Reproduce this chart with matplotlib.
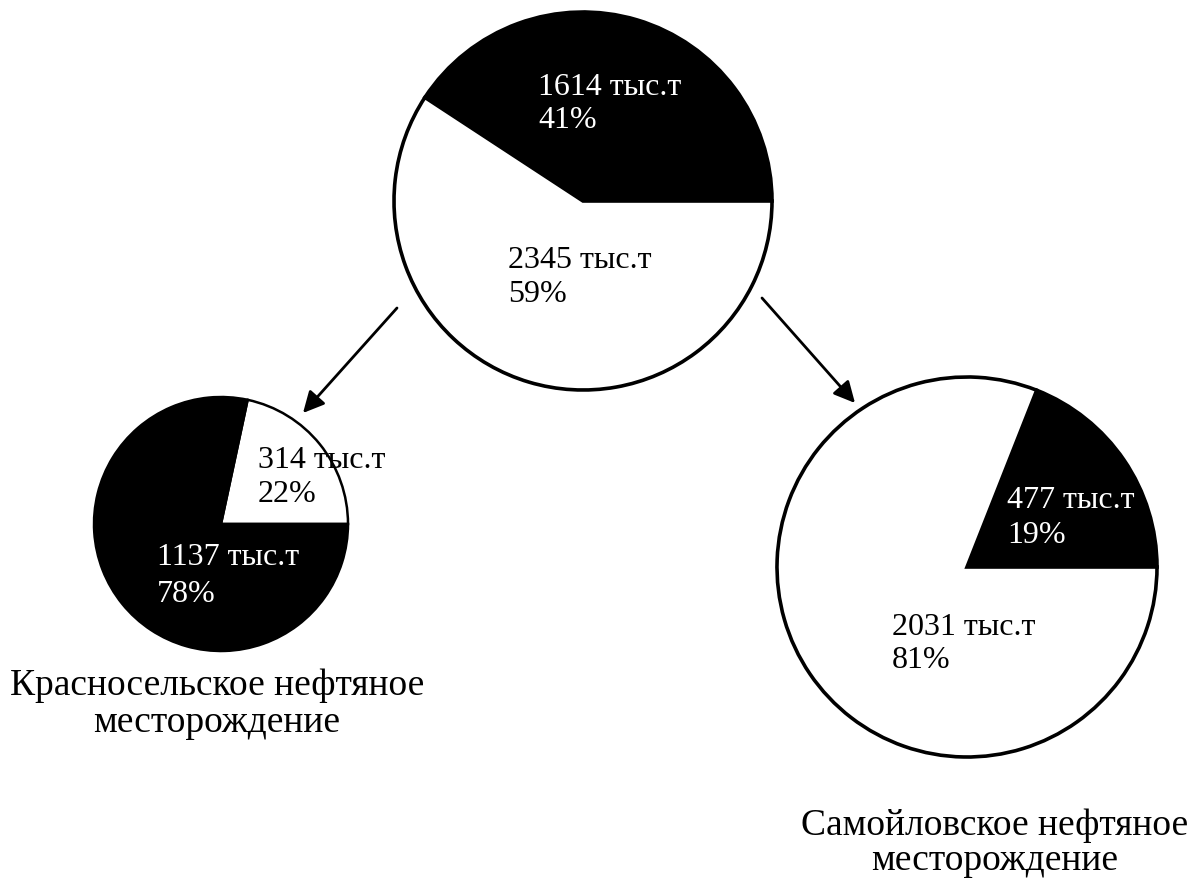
import matplotlib.pyplot as plt

plt.rcParams['font.family'] = ['Liberation Serif', 'DejaVu Serif']

# ── Data (тыс.т and shares) ──
top_vals = [1614, 2345]
top_pct = [41, 59]
left_vals = [314, 1137]
left_pct = [22, 78]
right_vals = [477, 2031]
right_pct = [19, 81]

left_title = ["Красносельское нефтяное", "месторождение"]
right_title = ["Самойловское нефтяное", "месторождение"]

W, H = 1193, 896
fig = plt.figure(figsize=(W / 100, H / 100), dpi=100)
ax = fig.add_axes([0, 0, 1, 1])

def draw_pie(vals, colors, center, radius, lw):
    # y axis is inverted, so clockwise in data = counter-clockwise on screen
    ax.pie(vals, colors=colors, startangle=0, counterclock=False,
           center=center, radius=radius, frame=True,
           wedgeprops=dict(edgecolor="black", linewidth=lw))

draw_pie(top_vals, ["black", "white"], (583, 201), 189, 2.6)
draw_pie(left_vals, ["white", "black"], (221, 524), 127, 1.8)
draw_pie(right_vals, ["black", "white"], (967, 567), 190, 2.6)

ax.set_xlim(0, W)
ax.set_ylim(H, 0)   # pixel-like coordinates, y goes down
ax.set_aspect("equal")
ax.axis("off")

# ── Slice labels: value + percent, two lines ──
def label(val, pct, x, y1, y2, color):
    ax.text(x, y1, f"{val} тыс.т", fontsize=23, color=color, va="baseline", ha="left")
    ax.text(x, y2, f"{pct}%", fontsize=23, color=color, va="baseline", ha="left")

label(top_vals[0], top_pct[0], 538, 95, 128, "white")
label(top_vals[1], top_pct[1], 508, 268, 302, "black")
label(left_vals[0], left_pct[0], 258, 468, 502, "black")
label(left_vals[1], left_pct[1], 157, 565, 602, "white")
label(right_vals[0], right_pct[0], 1007, 508, 543, "white")
label(right_vals[1], right_pct[1], 892, 635, 668, "black")

# ── Titles under the small pies ──
for i, line in enumerate(left_title):
    ax.text(217, [695, 732][i], line, fontsize=27, ha="center", va="baseline")
for i, line in enumerate(right_title):
    ax.text(995, [835, 870][i], line, fontsize=27, ha="center", va="baseline")

# ── Arrows from the big pie to the two fields ──
arrow = dict(arrowstyle="-|>", color="black", lw=2.0, mutation_scale=32,
             shrinkA=0, shrinkB=0)
ax.annotate("", xy=(303, 413), xytext=(397, 308), arrowprops=arrow)
ax.annotate("", xy=(855, 403), xytext=(762, 298), arrowprops=arrow)

plt.savefig("out.png", dpi=100)
